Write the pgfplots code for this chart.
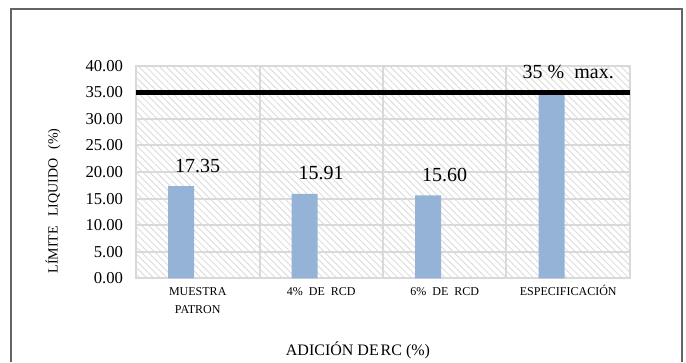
\documentclass[border=0pt]{standalone}
\usepackage{pgfplots}
\pgfplotsset{compat=1.18}
\usetikzlibrary{patterns.meta}
\usepackage{fontspec}
\setmainfont{Liberation Serif}

\definecolor{barblue}{RGB}{149,179,215}
\definecolor{gridgray}{RGB}{217,217,217}
\definecolor{hatchgray}{RGB}{222,222,222}
\definecolor{framegray}{RGB}{100,100,100}

\newcommand{\fs}[1]{\fontsize{#1}{#1}\selectfont}

\begin{document}
\begin{tikzpicture}
  \useasboundingbox (0,0) rectangle (514.5pt,271.5pt);
  % chart frame
  \draw[framegray, line width=1.1pt] (8.25pt,0pt) -- (8.25pt,264.75pt) -- (511.5pt,264.75pt) -- (511.5pt,0pt);

  \begin{axis}[
    at={(102pt,222.2pt)}, anchor=north west,
    scale only axis,
    width=370.5pt, height=159.5pt,
    xmin=-0.5, xmax=3.5,
    ymin=0, ymax=40,
    ytick={0,5,...,40},
    xtick={0,1,2,3},
    xticklabels={{MUESTRA\\PATRON},{4\%\ \ DE\ \ RCD},{6\%\ \ DE\ \ RCD},{ESPECIFICACI\smash{Ó}N}},
    minor xtick={0.5,1.5,2.5},
    major tick length=0pt, minor tick length=0pt,
    ymajorgrids, xminorgrids,
    grid style={gridgray, line width=1.5pt},
    minor grid style={gridgray, line width=1.5pt},
    axis line style={gridgray, line width=1.5pt},
    axis background/.style={pattern={Lines[angle=-45,distance=3.6pt,line width=0.75pt]}, pattern color=hatchgray},
    /pgf/number format/.cd, fixed, fixed zerofill, precision=2, assume math mode=true, /pgfplots/.cd,
    yticklabel style={font=\fs{12.5}, inner sep=0pt, xshift=-9.5pt},
    xticklabel style={font=\fontsize{9}{13.5}\selectfont, align=center, inner sep=0pt, anchor=north, yshift=-7pt},
    clip=false,
  ]
    % liquid limit per mix and the specification limit
    \addplot[ybar, bar width=0.21, bar shift=-0.135, fill=barblue, draw=none,
      nodes near coords, point meta=explicit symbolic,
      every node near coord/.append style={font=\fs{15}, anchor=south, inner sep=0pt, yshift=10pt, black}]
      coordinates {
      (0,17.35) [17.35]
      (1,15.91) [15.91]
      (2,15.60) [15.60]
      (3,35.00) [35\ \%\ \ max.]
    };
    % maximum allowed liquid limit
    \addplot[black, line width=3.5pt, no marks] coordinates {(-0.5,35) (3.5,35)};
  \end{axis}

  \node[font=\fs{12}] at (268.5pt,9pt) {ADICIÓN DE\hspace{0.12em}RC (\%)};
  \node[font=\fs{10.5}, rotate=90] at (39.75pt,120.75pt) {LÍMITE\hspace{0.65em}LIQUIDO\hspace{0.65em}(\%)};
\end{tikzpicture}
\end{document}
